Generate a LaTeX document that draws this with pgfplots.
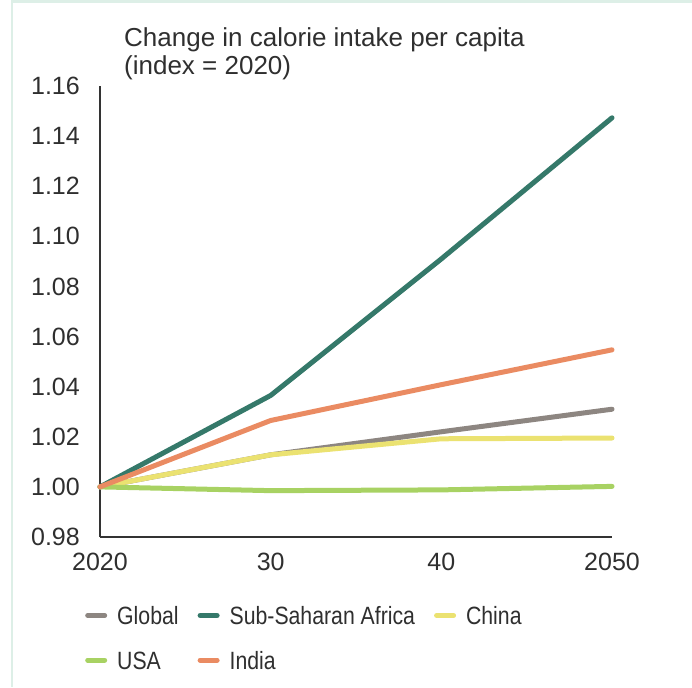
\documentclass[border=0pt]{standalone}
\usepackage{fontspec}
\setmainfont{Liberation Sans}
\newfontfamily\legfont[FakeStretch=0.85]{Liberation Sans}
\usepackage{pgfplots}
\pgfplotsset{compat=1.18}
\definecolor{txt}{HTML}{2F2F2F}
\definecolor{axisc}{HTML}{333333}
\definecolor{frame}{HTML}{DDEFE7}
\definecolor{cglobal}{HTML}{8D8681}
\definecolor{cssa}{HTML}{35796A}
\definecolor{cchina}{HTML}{EBE271}
\definecolor{cusa}{HTML}{A8D263}
\definecolor{cindia}{HTML}{EA8B62}
\begin{document}
\begin{tikzpicture}
\path[use as bounding box] (-100pt,-150pt) rectangle (592pt,537pt);
\fill[frame] (-89pt,534pt) rectangle (592pt,537pt);
\fill[frame] (-89pt,-150pt) rectangle (-86.5pt,537pt);
\node[anchor=base west, inner sep=0pt, text=txt, font=\fontsize{26}{28}\selectfont] at (24pt,490.3pt) {Change in calorie intake per capita};
\node[anchor=base west, inner sep=0pt, text=txt, font=\fontsize{26}{28}\selectfont] at (24pt,462.7pt) {(index = 2020)};
\begin{axis}[
  at={(0pt,0pt)}, anchor=south west,
  width=512pt, height=451pt, scale only axis,
  xmin=2020, xmax=2050, ymin=0.98, ymax=1.16,
  axis lines=left,
  axis line style={-, line width=2.3pt, color=axisc},
  xtick={2020,2030,2040,2050},
  xticklabels={2020,30,40,2050},
  ytick={0.98,1.00,1.02,1.04,1.06,1.08,1.10,1.12,1.14,1.16},
  yticklabels={0.98,1.00,1.02,1.04,1.06,1.08,1.10,1.12,1.14,1.16},
  major tick length=0pt,
  tick style={draw=none},
  ticklabel style={font=\fontsize{25}{30}\selectfont, text=txt},
  yticklabel style={inner sep=0pt, anchor=east, xshift=-20pt},
  xticklabel style={inner sep=0pt, anchor=north, yshift=-16pt},
  clip=false,
  legend columns=3,
  legend style={
    at={(axis description cs:-0.0293,-0.225)}, anchor=west,
    draw=none, fill=none, inner sep=0pt,
    font=\legfont\fontsize{25}{29}\selectfont, text=txt,
    cells={anchor=base west},
    column sep=8pt, row sep=21pt,
    /tikz/every even column/.append style={column sep=17pt},
  },
  legend image code/.code={\path[use as bounding box, draw=none, fill=none] (0pt,0pt) rectangle (22pt,9pt); \draw[#1, line width=5pt, line cap=round] (2.5pt,9pt) -- (19.5pt,9pt);},
  every axis plot/.append style={line width=5pt, line cap=round, line join=round},
]
\addplot[cglobal] coordinates {(2020,1.000) (2030,1.0128) (2040,1.0220) (2050,1.0310)};
\addlegendentry{Global}
\addplot[cssa] coordinates {(2020,1.000) (2030,1.0365) (2040,1.0910) (2050,1.1473)};
\addlegendentry{Sub-Saharan Africa}
\addplot[cchina] coordinates {(2020,1.000) (2030,1.0128) (2040,1.0192) (2050,1.0195)};
\addlegendentry{China}
\addplot[cusa] coordinates {(2020,1.000) (2030,0.9985) (2040,0.9988) (2050,1.0002)};
\addlegendentry{USA}
\addplot[cindia] coordinates {(2020,1.000) (2030,1.0265) (2040,1.0408) (2050,1.0547)};
\addlegendentry{India}
\end{axis}
\end{tikzpicture}
\end{document}
